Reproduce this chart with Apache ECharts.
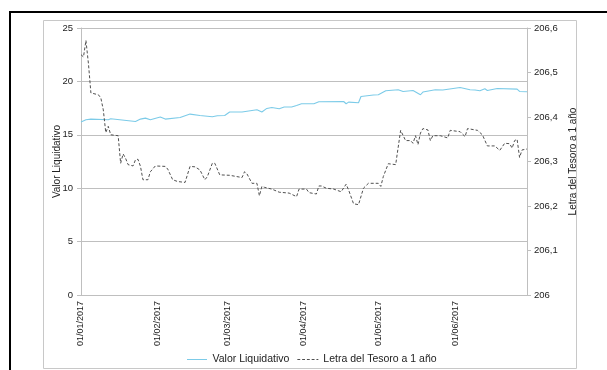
<!DOCTYPE html>
<html>
<head>
<meta charset="utf-8">
<script src="https://cdn.jsdelivr.net/npm/echarts@6/dist/echarts.min.js"></script>
<style>
  html, body { margin: 0; padding: 0; background: #fff; }
  #chart { width: 607px; height: 370px; }
</style>
</head>
<body>
<div id="chart"></div>
<script>
// Daily categories, 1 January to 30 June 2017 (dd/mm/yyyy)
const days = [];
for (let d = new Date(Date.UTC(2017, 0, 1)); d <= new Date(Date.UTC(2017, 5, 30)); d.setUTCDate(d.getUTCDate() + 1)) {
  const dd = String(d.getUTCDate()).padStart(2, '0');
  const mm = String(d.getUTCMonth() + 1).padStart(2, '0');
  days.push(dd + '/' + mm + '/' + d.getUTCFullYear());
}

// Valor Liquidativo (left axis)
const valorDates = [
  '01/01/2017','03/01/2017','05/01/2017','12/01/2017','13/01/2017','23/01/2017','25/01/2017','27/01/2017','29/01/2017',
  '02/02/2017','04/02/2017','10/02/2017','12/02/2017','14/02/2017','18/02/2017','23/02/2017','25/02/2017','28/02/2017',
  '02/03/2017','07/03/2017','11/03/2017','13/03/2017','15/03/2017','17/03/2017','19/03/2017','22/03/2017','24/03/2017',
  '27/03/2017','29/03/2017','31/03/2017','05/04/2017','07/04/2017','17/04/2017','18/04/2017','19/04/2017','23/04/2017',
  '24/04/2017','29/04/2017','01/05/2017','04/05/2017','09/05/2017','11/05/2017','15/05/2017','18/05/2017','19/05/2017',
  '24/05/2017','27/05/2017','03/06/2017','07/06/2017','09/06/2017','11/06/2017','13/06/2017','14/06/2017','18/06/2017',
  '26/06/2017','27/06/2017','30/06/2017'
];
const valorValues = [
  16.19, 16.41, 16.47, 16.41, 16.50, 16.25, 16.47, 16.56, 16.41,
  16.66, 16.47, 16.62, 16.78, 16.94, 16.81, 16.69, 16.78, 16.81,
  17.13, 17.13, 17.28, 17.34, 17.13, 17.47, 17.56, 17.44, 17.60,
  17.60, 17.75, 17.91, 17.91, 18.09, 18.12, 17.91, 18.06, 18.00,
  18.59, 18.72, 18.75, 19.12, 19.22, 19.06, 19.15, 18.75, 19.00,
  19.22, 19.19, 19.43, 19.22, 19.19, 19.12, 19.31, 19.15, 19.34,
  19.28, 19.06, 19.03
];

// Letra del Tesoro a 1 año (right axis)
const letraDates = [
  '01/01/2017','02/01/2017','03/01/2017','04/01/2017','05/01/2017','08/01/2017','09/01/2017','10/01/2017','11/01/2017',
  '12/01/2017','13/01/2017','16/01/2017','17/01/2017','18/01/2017','19/01/2017','20/01/2017','22/01/2017','23/01/2017',
  '24/01/2017','25/01/2017','26/01/2017','28/01/2017','29/01/2017','31/01/2017','04/02/2017','05/02/2017','07/02/2017',
  '09/02/2017','12/02/2017','14/02/2017','16/02/2017','18/02/2017','20/02/2017','21/02/2017','23/02/2017','24/02/2017',
  '26/02/2017','02/03/2017','07/03/2017','08/03/2017','09/03/2017','11/03/2017','13/03/2017','14/03/2017','15/03/2017',
  '16/03/2017','19/03/2017','22/03/2017','26/03/2017','29/03/2017','30/03/2017','02/04/2017','03/04/2017','06/04/2017',
  '07/04/2017','08/04/2017','10/04/2017','13/04/2017','16/04/2017','18/04/2017','19/04/2017','21/04/2017','23/04/2017',
  '25/04/2017','27/04/2017','01/05/2017','02/05/2017','03/05/2017','05/05/2017','08/05/2017','10/05/2017','12/05/2017',
  '14/05/2017','15/05/2017','16/05/2017','17/05/2017','18/05/2017','19/05/2017','21/05/2017','22/05/2017','23/05/2017',
  '26/05/2017','29/05/2017','30/05/2017','03/06/2017','05/06/2017','06/06/2017','10/06/2017','12/06/2017','14/06/2017',
  '17/06/2017','19/06/2017','21/06/2017','23/06/2017','24/06/2017','25/06/2017','26/06/2017','27/06/2017','28/06/2017',
  '30/06/2017'
];
const letraValues = [
  206.540, 206.535, 206.572, 206.520, 206.454, 206.450, 206.443, 206.416, 206.365,
  206.379, 206.360, 206.358, 206.296, 206.317, 206.307, 206.293, 206.290, 206.304,
  206.305, 206.289, 206.259, 206.259, 206.277, 206.290, 206.289, 206.283, 206.259,
  206.255, 206.253, 206.289, 206.288, 206.281, 206.259, 206.266, 206.296, 206.296,
  206.270, 206.269, 206.264, 206.277, 206.272, 206.251, 206.251, 206.223, 206.244,
  206.242, 206.238, 206.231, 206.229, 206.221, 206.238, 206.238, 206.230, 206.227,
  206.245, 206.245, 206.240, 206.238, 206.232, 206.249, 206.236, 206.205, 206.203,
  206.240, 206.251, 206.251, 206.244, 206.266, 206.295, 206.293, 206.370, 206.347,
  206.347, 206.341, 206.358, 206.338, 206.364, 206.374, 206.371, 206.347, 206.358,
  206.358, 206.353, 206.370, 206.367, 206.356, 206.374, 206.370, 206.360, 206.335,
  206.335, 206.325, 206.341, 206.340, 206.330, 206.347, 206.350, 206.309, 206.326,
  206.328
];

const FONT = '"Liberation Sans", Arial, sans-serif';
const GRAY = '#bfbfbf';
const BLUE = '#7ccbe8';
const DARK = '#505050';

// Legend keys: a plain stroke and a dashed stroke, no marker
const solidKey = 'path://M0,0H20V1H0Z';
const dashedKey = 'path://M0,0H3V1H0Z M5,0H8V1H5Z M10,0H13V1H10Z M15,0H18V1H15Z M20,0H22V1H20Z';

const chart = echarts.init(document.getElementById('chart'), null, { renderer: 'canvas' });

chart.setOption({
  animation: false,
  backgroundColor: '#fff',
  textStyle: { fontFamily: FONT },
  grid: { left: 81, right: 80, top: 28, bottom: 75, containLabel: false },
  legend: {
    left: 182,
    top: 349,
    itemWidth: 21,
    itemHeight: 1,
    itemGap: 8,
    textStyle: { fontFamily: FONT, fontSize: 10.5, color: '#222' },
    data: [
      { name: 'Valor Liquidativo', icon: solidKey },
      { name: 'Letra del Tesoro a 1 año', icon: dashedKey }
    ]
  },
  xAxis: {
    type: 'category',
    data: days,
    boundaryGap: false,
    axisLine: { lineStyle: { color: GRAY, width: 1 } },
    axisTick: { show: false },
    axisLabel: {
      interval: (i, v) => v.startsWith('01/'),
      rotate: 90,
      margin: 6,
      fontFamily: FONT,
      fontSize: 9,
      color: '#222'
    },
    splitLine: { show: false }
  },
  yAxis: [
    {
      type: 'value',
      min: 0, max: 25, interval: 5,
      position: 'left',
      name: 'Valor Liquidativo',
      nameLocation: 'middle',
      nameGap: 19,
      nameRotate: 90,
      nameMoveOverlap: false,
      nameTextStyle: { fontFamily: FONT, fontSize: 10, color: '#222' },
      axisLine: { show: true, lineStyle: { color: GRAY } },
      axisTick: { show: true, length: 4, lineStyle: { color: GRAY } },
      axisLabel: { margin: 8, fontFamily: FONT, fontSize: 9.5, color: '#222' },
      splitLine: { show: true, lineStyle: { color: GRAY, width: 1 } }
    },
    {
      type: 'value',
      min: 206, max: 206.6, interval: 0.1,
      position: 'right',
      name: 'Letra del Tesoro a 1 año',
      nameLocation: 'middle',
      nameGap: 41,
      nameRotate: 90,
      nameMoveOverlap: false,
      nameTextStyle: { fontFamily: FONT, fontSize: 10, color: '#222' },
      axisLine: { show: true, lineStyle: { color: GRAY } },
      axisTick: { show: true, length: 4, lineStyle: { color: GRAY } },
      axisLabel: {
        margin: 7,
        fontFamily: FONT, fontSize: 9.5, color: '#222',
        formatter: v => Math.abs(v - Math.round(v)) < 1e-9 ? String(Math.round(v)) : v.toFixed(1).replace('.', ',')
      },
      splitLine: { show: false }
    }
  ],
  series: [
    {
      name: 'Valor Liquidativo',
      type: 'line',
      yAxisIndex: 0,
      symbol: 'none',
      color: BLUE,
      lineStyle: { color: BLUE, width: 1.1 },
      data: valorDates.map((d, i) => [d, valorValues[i]]),
      z: 3
    },
    {
      name: 'Letra del Tesoro a 1 año',
      type: 'line',
      yAxisIndex: 1,
      symbol: 'none',
      color: DARK,
      lineStyle: { color: DARK, width: 1, type: [3, 2] },
      data: letraDates.map((d, i) => [d, letraValues[i]]),
      z: 4
    }
  ],
  graphic: [
    {
      type: 'rect',
      shape: { x: 43.5, y: 20.5, width: 533, height: 348 },
      style: { fill: 'none', stroke: '#c8c8c8', lineWidth: 1 },
      silent: true
    },
    {
      type: 'rect',
      shape: { x: 10, y: 12, width: 700, height: 400 },
      style: { fill: 'none', stroke: '#000', lineWidth: 2 },
      silent: true
    }
  ]
});
</script>
</body>
</html>
